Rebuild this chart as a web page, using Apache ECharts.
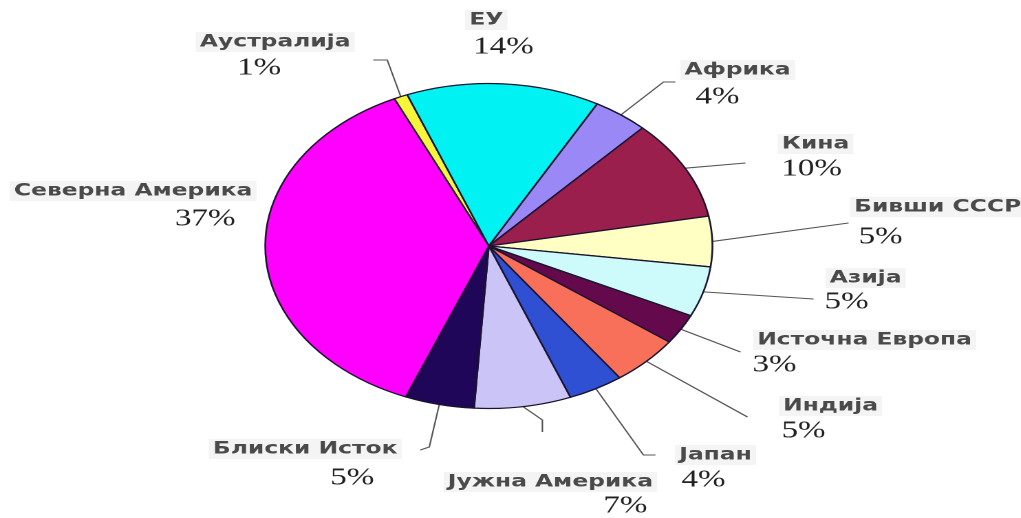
<!DOCTYPE html>
<html>
<head>
<meta charset="utf-8">
<script src="https://cdn.jsdelivr.net/npm/echarts@6/dist/echarts.min.js"></script>
<style>
  html, body { margin: 0; padding: 0; background: #ffffff; overflow: hidden; }
  #wrap { width: 1021px; height: 518px; position: relative; overflow: hidden; }
  #chart { position: absolute; left: 0; top: 0; transform-origin: 0 0; }
</style>
</head>
<body>
<div id="wrap"><div id="chart"></div></div>
<script>
// Regions and their share (%) of the total
const regions = ['Аустралија', 'ЕУ', 'Африка', 'Кина', 'Бивши СССР', 'Азија',
  'Источна Европа', 'Индија', 'Јапан', 'Јужна Америка', 'Блиски Исток', 'Северна Америка'];
const shares = [1, 14, 4, 10, 5, 5, 3, 5, 4, 7, 5, 37];
const colors = ['#f7f53a', '#00f2f2', '#9b88f7', '#9a1f4c', '#ffffc4', '#cdfafa',
  '#640a4c', '#f9705a', '#2f50d2', '#cbc4f7', '#1f0658', '#ff00ff'];

// Layout (page pixels): the chart is drawn narrow and widened horizontally
const STRETCH = 1.375;
const W = 1021 / STRETCH, H = 518;
const pieCenter = [488.5, 246];
const pieRadius = 162.5;
// centre of each region name
const nameSpots = [[275, 42], [486, 20], [737, 70], [815, 144], [937, 207], [865, 278],
  [864, 340], [830, 406], [715, 455], [550, 482], [305, 449], [133, 191]];
// centre of each percentage
const pctSpots = [[259, 68], [503, 47], [717, 97], [811, 169], [880, 237], [846, 302],
  [774, 365], [803, 431], [703, 480], [625, 506], [352, 478], [205, 219]];
// bends of the leader lines after they leave the slice edge
const leaderBends = [[[387, 60], [373, 60]], null, [[663, 82], [675, 82]], [[745, 163]],
  [[848, 223]], [[813, 299]], [[740, 352]], [[747, 417]], [[643, 455], [655, 455]],
  [[542, 420], [542, 432]], [[429, 447], [420, 450]], null];

const el = document.getElementById('chart');
el.style.width = W + 'px';
el.style.height = H + 'px';
el.style.transform = 'scaleX(' + STRETCH + ')';
const chart = echarts.init(el, null, { width: W, height: H, devicePixelRatio: 2 });

const sx = x => x / STRETCH;

const baseSeries = {
  type: 'pie',
  center: [sx(pieCenter[0]), pieCenter[1]],
  radius: pieRadius,
  startAngle: 115,
  clockwise: true,
  animation: false,
  avoidLabelOverlap: false,
  emphasis: { disabled: true }
};

const pieData = regions.map((name, i) => ({
  name: name,
  value: shares[i],
  itemStyle: { color: colors[i] },
  labelLine: { show: !!leaderBends[i] }
}));

const pctData = regions.map((name, i) => ({ name: name, value: shares[i] }));

chart.setOption({
  backgroundColor: '#ffffff',
  series: [
    Object.assign({}, baseSeries, {
      data: pieData,
      itemStyle: { borderColor: '#1b1430', borderWidth: 1.3 },
      label: {
        show: true,
        position: 'outside',
        formatter: '{b}',
        fontFamily: 'DejaVu Sans',
        fontWeight: 'bold',
        fontSize: 17,
        color: '#4a4a4a',
        backgroundColor: '#f4f4f4',
        padding: [2, 3, 1, 3]
      },
      labelLine: {
        show: true,
        lineStyle: { color: '#555555', width: 1.1 }
      },
      labelLayout: function (p) {
        const i = p.dataIndex;
        const out = {
          x: sx(nameSpots[i][0]),
          y: nameSpots[i][1],
          align: 'center',
          verticalAlign: 'middle'
        };
        if (leaderBends[i] && p.labelLinePoints) {
          const start = p.labelLinePoints[0];
          out.labelLinePoints = [start].concat(leaderBends[i].map(b => [sx(b[0]), b[1]]));
        }
        return out;
      }
    }),
    Object.assign({}, baseSeries, {
      silent: true,
      data: pctData,
      itemStyle: { color: 'rgba(0,0,0,0)', borderWidth: 0 },
      label: {
        show: true,
        position: 'outside',
        formatter: '{c}%',
        fontFamily: 'Liberation Serif',
        fontSize: 24,
        color: '#222222'
      },
      labelLine: { show: false },
      labelLayout: function (p) {
        const i = p.dataIndex;
        return {
          x: sx(pctSpots[i][0]),
          y: pctSpots[i][1],
          align: 'center',
          verticalAlign: 'middle'
        };
      }
    })
  ]
});
</script>
</body>
</html>
